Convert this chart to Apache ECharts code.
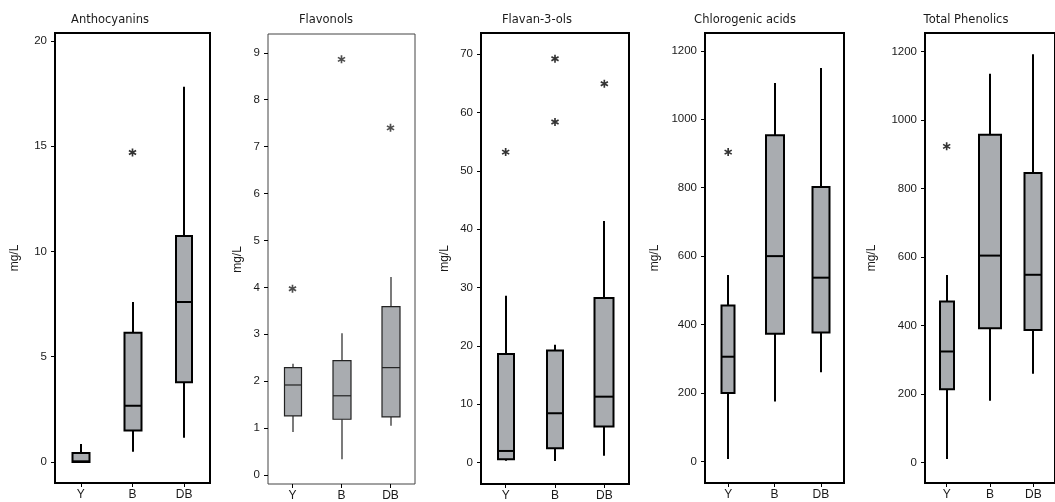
<!DOCTYPE html>
<html><head><meta charset="utf-8">
<script src="https://cdn.jsdelivr.net/npm/echarts@6/dist/echarts.min.js"></script>
<style>html,body{margin:0;padding:0;background:#fff}#c{width:1055px;height:502px}</style>
</head><body><div id="c"></div>
<script>
// ---------- data ----------
const categories = ['Y', 'B', 'DB'];
const panelTitles = ['Anthocyanins', 'Flavonols', 'Flavan-3-ols', 'Chlorogenic acids', 'Total Phenolics'];
const unitLabel = 'mg/L';
// box stats per category: [min, Q1, median, Q3, max]
const anthocyaninsBox = [[0, 0, 0.03, 0.42, 0.85], [0.49, 1.49, 2.67, 6.14, 7.6], [1.15, 3.79, 7.6, 10.74, 17.83]];
const anthocyaninsOut = [[1, 14.7]];
const flavonolsBox = [[0.92, 1.26, 1.92, 2.29, 2.37], [0.34, 1.19, 1.69, 2.44, 3.02], [1.05, 1.24, 2.29, 3.59, 4.22]];
const flavonolsOut = [[0, 3.97], [1, 8.86], [2, 7.40]];
const flavanolsBox = [[0.34, 0.57, 2.0, 18.6, 28.6], [0.3, 2.46, 8.46, 19.2, 20.2], [1.2, 6.17, 11.3, 28.2, 41.4]];
const flavanolsOut = [[0, 53.2], [1, 69.2], [1, 58.35], [2, 64.9]];
const chlorogenicBox = [[7, 200, 306, 456, 545], [175, 373, 600, 953, 1106], [261, 377, 537, 802, 1150]];
const chlorogenicOut = [[0, 904]];
const phenolicsBox = [[10, 214, 324, 470, 547], [180, 392, 604, 957, 1135], [259, 387, 548, 845, 1192]];
const phenolicsOut = [[0, 923]];
// tick labels
const ticksAnthocyanins = [0, 5, 10, 15, 20];
const ticksFlavonols = [0, 1, 2, 3, 4, 5, 6, 7, 8, 9];
const ticksFlavanols = [0, 10, 20, 30, 40, 50, 60, 70];
const ticksChlorogenic = [0, 200, 400, 600, 800, 1000, 1200];
const ticksPhenolics = [0, 200, 400, 600, 800, 1000, 1200];

// ---------- layout / style ----------
const boxes = [anthocyaninsBox, flavonolsBox, flavanolsBox, chlorogenicBox, phenolicsBox];
const outs = [anthocyaninsOut, flavonolsOut, flavanolsOut, chlorogenicOut, phenolicsOut];
const ticks = [ticksAnthocyanins, ticksFlavonols, ticksFlavanols, ticksChlorogenic, ticksPhenolics];
const layout = [
  {left: 55, top: 33, width: 155, height: 450, min: -1, max: 20.38, titleX: 110, unitX: 15, widths: [17, 17, 16], lw: 2, lc: '#000', bc: '#000', bw: 2, oc: '#000'},
  {left: 268, top: 34, width: 147, height: 451, min: -0.19, max: 9.40, titleX: 326, unitX: 238, widths: [17, 18, 18], lw: 1.2, lc: '#222', bc: '#444', bw: 1, oc: '#222'},
  {left: 481, top: 33, width: 148, height: 451, min: -3.66, max: 73.6, titleX: 537, unitX: 445, widths: [16, 16, 19], lw: 2, lc: '#000', bc: '#000', bw: 2, oc: '#000'},
  {left: 705, top: 33, width: 139, height: 450, min: -63, max: 1252, titleX: 745, unitX: 655, widths: [13, 18, 17], lw: 2, lc: '#000', bc: '#000', bw: 2, oc: '#000'},
  {left: 925, top: 33, width: 139, height: 450, min: -60, max: 1254, titleX: 966, unitX: 872, widths: [14, 22, 17], lw: 2, lc: '#000', bc: '#000', bw: 2, oc: '#000'}
];
const FONT = 'Liberation Sans';
const TFONT = 'DejaVu Sans';
const fill = '#a9acb0';
const star = 'path://M-1,-5L1,-5L1,5L-1,5Z M-4.83,-1.634L-3.83,-3.366L4.83,1.634L3.83,3.366Z M-3.83,3.366L-4.83,1.634L3.83,-3.366L4.83,-1.634Z';

function makeRender(widths, lw, lc) {
  return function (params, api) {
    const c = api.value(0);
    const pMin = api.coord([c, api.value(1)]);
    const pQ1 = api.coord([c, api.value(2)]);
    const pMed = api.coord([c, api.value(3)]);
    const pQ3 = api.coord([c, api.value(4)]);
    const pMax = api.coord([c, api.value(5)]);
    const w = widths[params.dataIndex];
    const x = Math.round(pMed[0]);
    const st = {stroke: lc, lineWidth: lw};
    return {type: 'group', children: [
      {type: 'line', shape: {x1: x, y1: pMax[1], x2: x, y2: pQ3[1]}, style: st},
      {type: 'line', shape: {x1: x, y1: pQ1[1], x2: x, y2: pMin[1]}, style: st},
      {type: 'rect', shape: {x: x - w / 2, y: pQ3[1], width: w, height: pQ1[1] - pQ3[1]}, style: {fill: fill, stroke: lc, lineWidth: lw}},
      {type: 'line', shape: {x1: x - w / 2, y1: pMed[1], x2: x + w / 2, y2: pMed[1]}, style: st}
    ]};
  };
}

const grid = [], xAxis = [], yAxis = [], series = [], graphic = [];
layout.forEach((L, i) => {
  grid.push({left: L.left, top: L.top, width: L.width, height: L.height, show: true, borderColor: L.bc, borderWidth: L.bw, backgroundColor: 'transparent', containLabel: false});
  xAxis.push({type: 'category', gridIndex: i, data: categories, boundaryGap: true, position: 'bottom',
    axisLine: {show: false, onZero: false}, splitLine: {show: false},
    axisTick: {show: true, alignWithLabel: true, length: 4, lineStyle: {color: '#000', width: 1}},
    axisLabel: {margin: 6, fontFamily: FONT, fontSize: 12, color: '#1a1a1a'}});
  yAxis.push({type: 'value', gridIndex: i, min: L.min, max: L.max, position: 'left',
    axisLine: {show: false, onZero: false}, splitLine: {show: false},
    axisTick: {show: true, length: 4, customValues: ticks[i], lineStyle: {color: '#000', width: 1}},
    axisLabel: {margin: 8, fontFamily: FONT, fontSize: 11.5, color: '#1a1a1a', customValues: ticks[i], formatter: v => String(v)}});
  series.push({type: 'custom', xAxisIndex: i, yAxisIndex: i, renderItem: makeRender(L.widths, L.lw, L.lc),
    data: boxes[i].map((b, k) => [k].concat(b)), encode: {x: 0, y: [1, 2, 3, 4, 5]}, z: 2});
  series.push({type: 'scatter', xAxisIndex: i, yAxisIndex: i, data: outs[i], symbol: star, symbolSize: 8,
    itemStyle: {color: L.oc}, z: 3});
  graphic.push({type: 'text', x: L.titleX, y: 20, style: {text: panelTitles[i], fontFamily: TFONT, fontSize: 11.5, fill: '#1a1a1a', align: 'center', verticalAlign: 'middle'}});
  graphic.push({type: 'text', x: L.unitX, y: L.top + L.height / 2, rotation: Math.PI / 2, style: {text: unitLabel, fontFamily: FONT, fontSize: 12, fill: '#1a1a1a', align: 'center', verticalAlign: 'middle'}});
});

const chart = echarts.init(document.getElementById('c'), null, {renderer: 'canvas'});
chart.setOption({animation: false, backgroundColor: '#fff', grid, xAxis, yAxis, series, graphic});
</script>
</body></html>
